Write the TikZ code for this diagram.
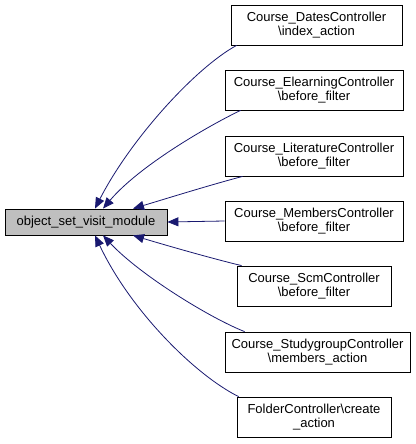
\documentclass[tikz,border=0pt]{standalone}
\usepackage{fontspec}
\setmainfont{Liberation Sans}
\usetikzlibrary{arrows.meta}
\definecolor{edgecol}{RGB}{25,25,112}
\definecolor{mainfill}{RGB}{191,191,191}
\tikzset{
  box/.style={draw=black, line width=0.8pt, align=center, inner sep=0pt,
    font=\fontsize{13}{14.5}\selectfont, minimum height=40},
  mainbox/.style={box, fill=mainfill, minimum height=26},
  edge/.style={draw=edgecol, line width=0.8pt, -{Triangle[length=11pt,width=9pt]}, fill=none},
}
\begin{document}
\begin{tikzpicture}[x=1pt,y=-1pt]
\useasboundingbox (0,0) rectangle (415,444);
\node[mainbox, minimum width=162] (main) at (86,222) {object\_set\_visit\_module};
\node[box, minimum width=171] (dates) at (316.5,25) {Course\_DatesController\\\textbackslash index\_action};
\node[box, minimum width=178] (elearn) at (314,90) {Course\_ElearningController\\\textbackslash before\_filter};
\node[box, minimum width=178] (lit) at (314,156) {Course\_LiteratureController\\\textbackslash before\_filter};
\node[box, minimum width=178] (mem) at (314,221) {Course\_MembersController\\\textbackslash before\_filter};
\node[box, minimum width=154] (scm) at (314,286) {Course\_ScmController\\\textbackslash before\_filter};
\node[box, minimum width=185] (study) at (317.5,352) {Course\_StudygroupController\\\textbackslash members\_action};
\node[box, minimum width=154] (folder) at (314,417) {FolderController\textbackslash create\\\_action};

\draw[edge] ([xshift=6]dates.south west) .. controls (195,68) and (130,140) .. ([xshift=9]main.north);
\draw[edge] ([xshift=16]elearn.south west) .. controls (210,125) and (140,165) .. ([xshift=17]main.north);
\draw[edge] ([xshift=18]lit.south west) .. controls (210,185) and (165,199) .. ([xshift=47]main.north);
\draw[edge] (mem.west) -- (main.east);
\draw[edge] ([xshift=5]scm.north west) .. controls (210,258) and (165,245) .. ([xshift=47]main.south);
\draw[edge] ([xshift=20]study.north west) .. controls (210,318) and (140,275) .. ([xshift=17]main.south);
\draw[edge] ([xshift=2]folder.north west) .. controls (195,375) and (130,310) .. ([xshift=9]main.south);
\end{tikzpicture}
\end{document}
